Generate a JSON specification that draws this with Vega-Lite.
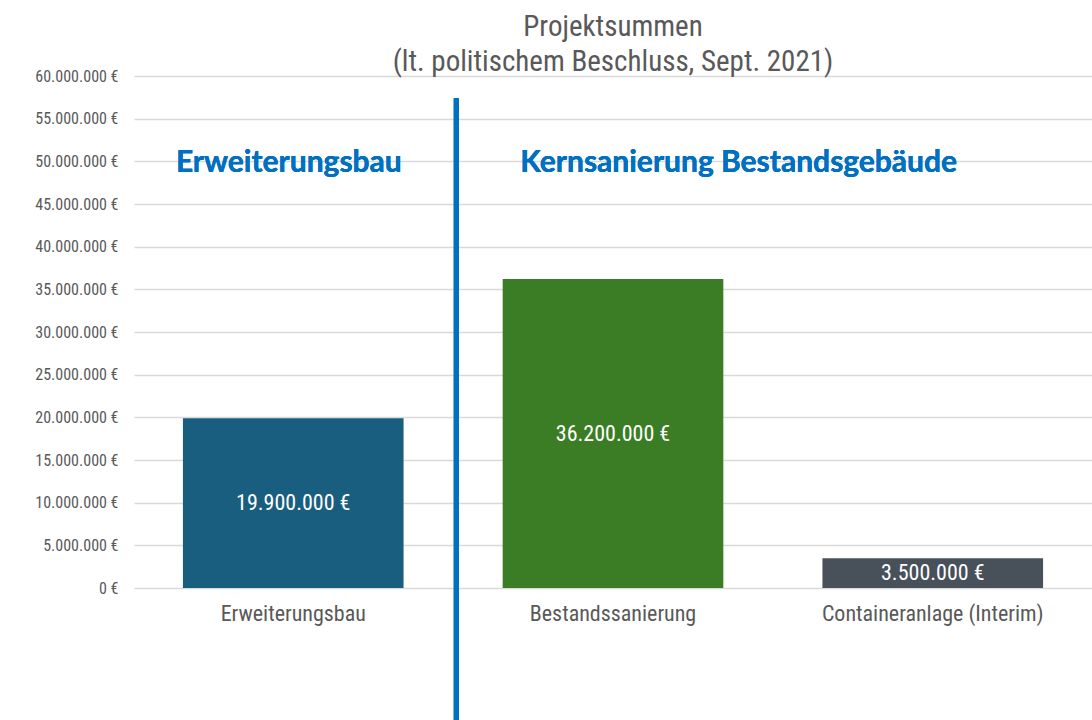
{
  "$schema": "https://vega.github.io/schema/vega-lite/v6.json",
  "autosize": {"type": "none"},
  "width": 958,
  "height": 512,
  "padding": {"left": 134, "top": 76, "right": 0, "bottom": 132},
  "background": "white",
  "config": {
    "locale": {"number": {"decimal": ",", "thousands": ".", "grouping": [3], "currency": ["", " €"]}},
    "view": {"stroke": null},
    "font": "Roboto Condensed, Liberation Sans Narrow, DejaVu Sans Condensed, Roboto"
  },
  "title": {
    "text": ["Projektsummen", "(lt. politischem Beschluss, Sept. 2021)"],
    "fontSize": 29,
    "fontWeight": "normal",
    "color": "#595959",
    "anchor": "middle",
    "lineHeight": 35,
    "offset": -9
  },
  "datasets": {
    "bars": [
      {"kategorie": "Erweiterungsbau", "wert": 19900000},
      {"kategorie": "Bestandssanierung", "wert": 36200000},
      {"kategorie": "Containeranlage (Interim)", "wert": 3500000}
    ]
  },
  "data": {"name": "bars"},
  "encoding": {
    "x": {
      "field": "kategorie",
      "type": "nominal",
      "sort": null,
      "scale": {"paddingInner": 0.31, "paddingOuter": 0.153},
      "axis": {
        "title": null,
        "labelAngle": 0,
        "labelFontSize": 22,
        "labelColor": "#595959",
        "labelPadding": 15,
        "labelLimit": 0,
        "domain": false,
        "ticks": false,
        "grid": false
      }
    }
  },
  "layer": [
    {
      "mark": {"type": "bar"},
      "encoding": {
        "y": {
          "field": "wert",
          "type": "quantitative",
          "scale": {"domain": [0, 60000000], "nice": false},
          "axis": {
            "title": null,
            "values": [0, 5000000, 10000000, 15000000, 20000000, 25000000, 30000000, 35000000, 40000000, 45000000, 50000000, 55000000, 60000000],
            "format": "$,.0f",
            "labelFontSize": 16,
            "labelColor": "#595959",
            "labelPadding": 16,
            "labelLimit": 0,
            "domain": false,
            "ticks": false,
            "gridColor": "#d9d9d9",
            "gridWidth": 1.5
          }
        },
        "color": {
          "field": "kategorie",
          "type": "nominal",
          "scale": {
            "domain": ["Erweiterungsbau", "Bestandssanierung", "Containeranlage (Interim)"],
            "range": ["#195E7F", "#3A7D24", "#48505A"]
          },
          "legend": null
        }
      }
    },
    {
      "transform": [{"calculate": "datum.wert / 2", "as": "mitte"}],
      "mark": {"type": "text", "color": "white", "fontSize": 22, "fontWeight": "normal", "baseline": "middle"},
      "encoding": {
        "y": {"field": "mitte", "type": "quantitative"},
        "text": {"field": "wert", "type": "quantitative", "format": "$,.0f"}
      }
    },
    {
      "mark": {"type": "rule", "color": "#0070C0", "strokeWidth": 5, "clip": false},
      "encoding": {
        "x": {"datum": "Erweiterungsbau", "type": "nominal", "bandPosition": 1.239},
        "y": {"datum": 57400000, "type": "quantitative"},
        "y2": {"datum": -15500000}
      }
    },
    {
      "mark": {"type": "text", "color": "#0070C0", "font": "Lato", "fontSize": 30, "fontWeight": "bold", "baseline": "middle", "align": "center"},
      "encoding": {
        "x": {"datum": "Erweiterungsbau", "type": "nominal", "bandPosition": 0.48},
        "y": {"datum": 49800000, "type": "quantitative"},
        "text": {"value": "Erweiterungsbau"}
      }
    },
    {
      "mark": {"type": "text", "color": "#0070C0", "font": "Lato", "fontSize": 30, "fontWeight": "bold", "baseline": "middle", "align": "left"},
      "encoding": {
        "x": {"datum": "Bestandssanierung", "type": "nominal", "bandPosition": 0.08},
        "y": {"datum": 49800000, "type": "quantitative"},
        "text": {"value": "Kernsanierung Bestandsgebäude"}
      }
    }
  ]
}
